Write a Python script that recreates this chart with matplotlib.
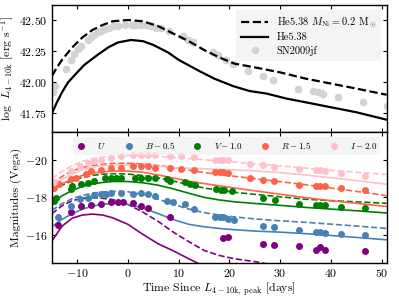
import matplotlib
matplotlib.use("Agg")
import matplotlib.pyplot as plt
import numpy as np

plt.rcParams['font.family'] = 'serif'
plt.rcParams['font.serif'] = ['cmr10', 'DejaVu Serif']
plt.rcParams['mathtext.fontset'] = 'cm'
plt.rcParams['axes.formatter.use_mathtext'] = True
plt.rcParams['axes.unicode_minus'] = True

# ---------------- top panel data ----------------
t_top = [-15, -14, -13, -11, -9, -7, -5, -3, 0, 3, 6, 9, 12, 15, 18, 21, 25, 30, 35, 40, 45, 51]
L_dash = [42.05, 42.12, 42.18, 42.28, 42.36, 42.42, 42.46, 42.49, 42.50, 42.49, 42.45, 42.39, 42.33,
          42.26, 42.20, 42.15, 42.12, 42.08, 42.03, 41.99, 41.95, 41.90]
t_top_s = [-15, -14, -13, -11.8, -10, -8.6, -6, -3.9, -2, 0.6, 3, 5, 7.9, 10, 14.1, 17, 20.7, 24, 27.3,
           31.2, 35, 40, 45, 51]
L_solid = [41.75, 41.84, 41.92, 42.00, 42.08, 42.14, 42.22, 42.28, 42.32, 42.34, 42.33, 42.30, 42.24,
           42.18, 42.09, 42.03, 41.97, 41.93, 41.91, 41.87, 41.84, 41.80, 41.76, 41.70]

sn_t = [-14.8, -14.3, -12.2, -11.2, -10.6, -9.8, -9.2, -7.9, -7.2, -6.6, -5.9, -5.3, -4.5, -3.7, -2.9,
        -2.0, -0.5, 0.7, 1.6, 2.6, 3.6, 4.6, 5.6, 6.6, 8.1, 10.8, 11.8, 12.8, 16.8, 17.8, 19.4, 20.7,
        23.7, 26.6, 28.5, 33.5, 36.5, 37.5, 38.5, 41.5, 46.4, 51.0]
sn_L = [41.92, 41.97, 42.11, 42.18, 42.23, 42.27, 42.29, 42.34, 42.36, 42.38, 42.40, 42.41, 42.43,
        42.44, 42.45, 42.45, 42.46, 42.46, 42.46, 42.46, 42.46, 42.45, 42.44, 42.44, 42.41, 42.37,
        42.34, 42.32, 42.24, 42.22, 42.18, 42.15, 42.09, 42.05, 42.02, 41.95, 41.93, 41.92, 41.91,
        41.88, 41.84, 41.81]
sn_err = [0.02] * len(sn_L)
sn_err[38] = 0.04

# ---------------- bottom panel data ----------------
tk = [-15, -13, -11, -9, -7, -5, -3, 0, 3, 6, 9, 12, 15, 18, 21, 25, 30, 35, 40, 45, 51]

U_solid_t = [-15, -13, -11, -9, -7, -5, -3, 0, 3, 6, 9, 12, 15, 18]
U_solid = [-15.65, -16.45, -16.88, -17.05, -17.10, -17.05, -16.90, -16.55, -16.00, -15.50, -15.12,
           -14.70, -14.30, -13.90]
U_dash_t = [-15, -13, -11, -9, -7, -5, -3, 0, 3, 6, 9, 12, 15, 18, 21, 25, 30]
U_dash = [-17.12, -17.55, -17.82, -17.95, -17.98, -17.95, -17.88, -17.62, -17.20, -16.70, -16.12,
          -15.62, -15.15, -14.88, -14.70, -14.55, -14.30]
B_solid = [-16.42, -16.82, -17.12, -17.36, -17.53, -17.63, -17.68, -17.62, -17.42, -17.12, -16.80,
           -16.55, -16.42, -16.33, -16.26, -16.19, -16.13, -16.05, -15.95, -15.85, -15.72]
B_dash = [-17.30, -17.66, -17.93, -18.10, -18.22, -18.29, -18.32, -18.30, -18.15, -17.90, -17.62,
          -17.37, -17.18, -17.05, -16.95, -16.84, -16.74, -16.66, -16.56, -16.46, -16.33]
V_solid = [-17.70, -18.08, -18.37, -18.58, -18.72, -18.80, -18.85, -18.85, -18.78, -18.65, -18.45,
           -18.22, -18.00, -17.86, -17.76, -17.67, -17.57, -17.46, -17.37, -17.28, -17.16]
V_dash = [-18.32, -18.65, -18.90, -19.07, -19.18, -19.24, -19.27, -19.25, -19.17, -19.04, -18.87,
          -18.68, -18.50, -18.38, -18.27, -18.16, -18.03, -17.90, -17.82, -17.76, -17.68]
R_solid = [-18.40, -18.72, -18.98, -19.17, -19.30, -19.37, -19.41, -19.41, -19.34, -19.20, -19.03,
           -18.87, -18.74, -18.62, -18.50, -18.35, -18.17, -17.98, -17.82, -17.68, -17.51]
R_dash = [-18.75, -19.12, -19.42, -19.60, -19.71, -19.78, -19.82, -19.83, -19.79, -19.71, -19.60,
          -19.46, -19.33, -19.23, -19.13, -19.00, -18.84, -18.68, -18.50, -18.32, -18.09]
I_solid = [-18.66, -18.98, -19.25, -19.48, -19.62, -19.70, -19.73, -19.74, -19.72, -19.67, -19.60,
           -19.56, -19.53, -19.50, -19.47, -19.42, -19.33, -19.20, -19.05, -18.90, -18.70]
I_dash = [-19.00, -19.40, -19.70, -19.93, -20.07, -20.16, -20.21, -20.25, -20.24, -20.20, -20.14,
          -20.08, -20.02, -19.95, -19.89, -19.80, -19.69, -19.57, -19.45, -19.35, -19.23]

U_t = [-13.8, -11.2, -9.2, -7.2, -5.3, -3.3, -2.0, -1.0, 1.0, 2.6, 3.9, 8.2, 18.7, 19.7, 26.6, 28.8,
       33.8, 37.1, 37.8, 38.9, 46.8]
U_m = [-16.51, -17.21, -17.56, -17.61, -17.62, -17.74, -17.74, -17.74, -17.68, -17.56, -17.44, -16.95,
       -15.81, -15.86, -15.49, -15.42, -15.37, -15.19, -15.32, -15.19, -15.10]
B_t = [-13.8, -11.2, -9.5, -7.9, -6.6, -5.3, -4.3, -3.3, -1.3, 1.0, 2.6, 3.9, 5.3, 7.6, 8.9, 11.2,
       13.1, 17.1, 18.2, 18.7, 19.7, 21.0, 26.6, 28.8, 33.8, 37.1, 37.8, 38.9, 42.1, 46.8]
B_m = [-16.95, -17.51, -17.91, -17.96, -18.10, -18.17, -18.20, -18.23, -18.23, -18.20, -18.21, -18.17,
       -18.05, -17.82, -17.77, -17.65, -17.35, -16.95, -16.95, -16.92, -16.86, -16.77, -16.47, -16.40,
       -16.25, -16.16, -16.16, -16.10, -16.04, -15.98]
V_t = [-14.5, -14.2, -11.2, -11.0, -9.2, -7.9, -6.6, -4.6, -3.3, -2.3, -1.3, 1.3, 2.6, 3.9, 5.3, 7.6,
       8.2, 11.2, 12.2, 13.2, 17.4, 18.4, 19.0, 20.5, 26.6, 28.9, 33.8, 37.1, 37.8, 38.9, 42.1, 46.8]
V_m = [-17.79, -17.95, -18.44, -18.60, -18.70, -18.79, -18.88, -19.02, -19.05, -19.05, -19.05, -19.05,
       -19.06, -19.05, -19.02, -18.96, -18.90, -18.82, -18.72, -18.68, -18.47, -18.42, -18.40, -18.35,
       -17.95, -17.86, -17.65, -17.60, -17.60, -17.58, -17.47, -17.42]
R_t = [-14.5, -13.5, -11.2, -10.2, -8.3, -7.2, -5.3, -3.3, -1.3, 1.0, 2.6, 3.9, 5.3, 8.2, 10.5, 13.1,
       17.1, 18.2, 18.7, 19.7, 24.0, 26.6, 28.8, 33.8, 37.1, 37.8, 38.9, 42.1, 46.8]
R_m = [-18.50, -18.70, -18.96, -19.05, -19.26, -19.40, -19.49, -19.58, -19.60, -19.67, -19.67, -19.67,
       -19.60, -19.58, -19.54, -19.49, -19.37, -19.36, -19.36, -19.33, -19.02, -18.93, -18.88, -18.67,
       -18.60, -18.60, -18.60, -18.49, -18.40]
I_t = [-14.5, -11.2, -9.5, -7.9, -6.6, -5.3, -3.3, -1.3, 1.0, 2.6, 3.9, 5.3, 8.2, 10.5, 13.1, 17.1,
       18.2, 18.7, 19.7, 24.0, 26.6, 28.8, 33.8, 37.1, 37.8, 38.9, 42.1, 46.8]
I_m = [-18.80, -19.40, -19.67, -19.84, -19.93, -20.00, -20.10, -20.20, -20.25, -20.30, -20.30, -20.27,
       -20.20, -20.20, -20.14, -20.02, -20.02, -20.02, -20.00, -19.81, -19.72, -19.65, -19.53, -19.45,
       -19.45, -19.43, -19.32, -19.14]

band_labels = [r'$U$', r'$B - 0.5$', r'$V - 1.0$', r'$R - 1.5$', r'$I - 2.0$']
band_colors = ['purple', 'steelblue', 'green', 'tomato', 'pink']

# ---------------- figure ----------------
fig = plt.figure(figsize=(3.99, 2.99), dpi=100)
ax1 = fig.add_axes([0.130, 0.558, 0.839, 0.425])
ax2 = fig.add_axes([0.130, 0.122, 0.839, 0.436], sharex=ax1)

ax1.plot(t_top, L_dash, 'k--', lw=1.6, label=r'He5.38 $M_{\rm Ni} = 0.2$ M$_\odot$')
ax1.plot(t_top_s, L_solid, 'k-', lw=1.6, label='He5.38')
ax1.errorbar(sn_t, sn_L, yerr=sn_err, fmt='o', color='lightgray', ms=4.5, elinewidth=1.2,
             capsize=0, label='SN2009jf', zorder=1)
ax1.set_ylim(41.6, 42.62)
ax1.set_yticks([41.75, 42.00, 42.25, 42.50])
ax1.set_ylabel(r'log  $L_{4-10{\rm k}}$ [erg s$^{-1}$]', fontsize=8.5, labelpad=2)
handles, labels = ax1.get_legend_handles_labels()
handles[2] = plt.Line2D([], [], marker='o', color='lightgray', ls='none', ms=4.5)
leg1 = ax1.legend(handles, labels, loc='upper right', fontsize=7.5, frameon=True, framealpha=0.6,
                  facecolor='#eeeeee', edgecolor='none', handlelength=2.6,
                  borderpad=0.5, labelspacing=0.3, handletextpad=0.8)
ax1.tick_params(axis='x', labelbottom=False)

t_band_solid = [U_solid_t, tk, tk, tk, tk]
t_band_dash = [U_dash_t, tk, tk, tk, tk]
solids = [U_solid, B_solid, V_solid, R_solid, I_solid]
dashes = [U_dash, B_dash, V_dash, R_dash, I_dash]
dts = [U_t, B_t, V_t, R_t, I_t]
dms = [U_m, B_m, V_m, R_m, I_m]
band_handles = []
for ts, s, td, d, t_, m, c, lab in zip(t_band_solid, solids, t_band_dash, dashes, dts, dms,
                                         band_colors, band_labels):
    ax2.plot(ts, s, '-', color=c, lw=1.2)
    ax2.plot(td, d, '--', color=c, lw=1.2)
    err = [0.08 if abs(x - 38.9) < 0.05 or abs(x - 33.8) < 0.05 else 0.0 for x in t_]
    ax2.errorbar(t_, m, yerr=err, fmt='o', color=c, ms=4, elinewidth=1, capsize=0,
                 linestyle='none')
    band_handles.append(plt.Line2D([], [], marker='o', color=c, ls='none', ms=4, label=lab))

ax2.set_ylim(-14.5, -21.5)
ax2.set_yticks([-16, -18, -20])
ax2.set_xlim(-15, 51)
ax2.set_xticks([-10, 0, 10, 20, 30, 40, 50])
ax2.set_ylabel('Magnitudes (Vega)', fontsize=8.5, labelpad=2)
ax2.set_xlabel(r'Time Since $L_{\rm 4-10k,\ peak}$ [days]', fontsize=8.5, labelpad=1)
leg2 = ax2.legend(handles=band_handles, loc='upper right', ncol=5, fontsize=6.5, frameon=True,
                  framealpha=0.6, facecolor='#eeeeee', edgecolor='none', handletextpad=1.3,
                  columnspacing=2.0, borderpad=0.35, handlelength=1.0,
                  bbox_to_anchor=(0.995, 0.995))

for ax in (ax1, ax2):
    ax.tick_params(direction='in', top=True, right=True, labelsize=8.5, length=3, pad=3)
    for sp in ax.spines.values():
        sp.set_linewidth(1.0)

fig.savefig('out.png', dpi=100)
